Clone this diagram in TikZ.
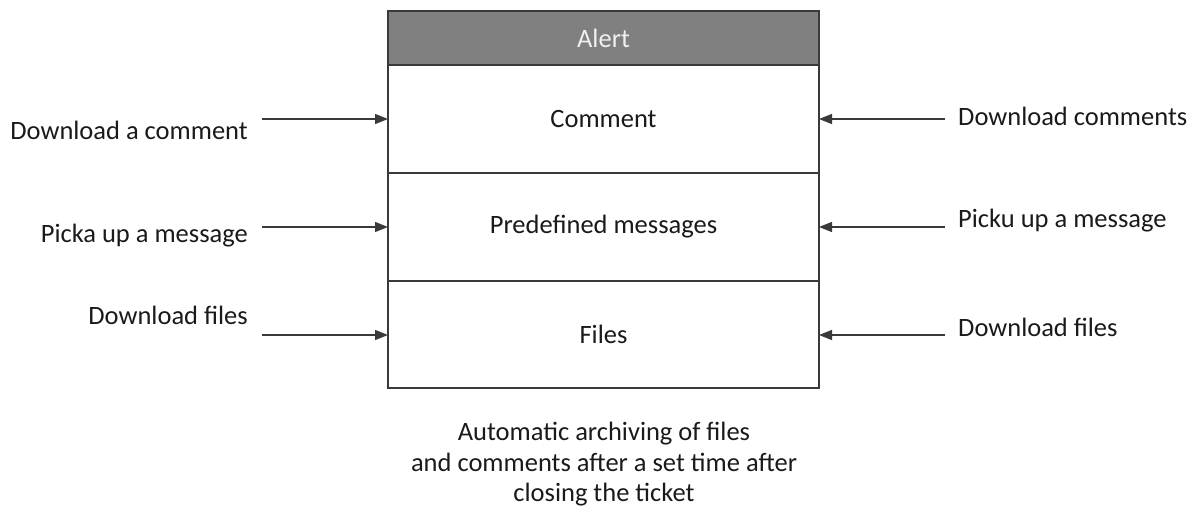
\documentclass[tikz,border=0pt]{standalone}
\usepackage{fontspec}
\setmainfont{Carlito}
\usetikzlibrary{arrows.meta}
\definecolor{hdr}{HTML}{808080}
\definecolor{hdrtxt}{HTML}{F0F0F0}
\definecolor{linec}{HTML}{3A3A3A}
\definecolor{txt}{HTML}{1A1A1A}
\begin{document}
\begin{tikzpicture}[x=1pt,y=-1pt,
  every node/.style={font=\fontsize{26.5}{30.5}\selectfont, text=txt, inner sep=0pt},
  rowbox/.style={draw=linec, line width=1.2pt, fill=white, minimum width=431pt, anchor=north west, outer sep=0pt},
  conn/.style={draw=linec, line width=1.3pt, -{Triangle[length=13pt,width=10pt]}}]
\useasboundingbox (0,0) rectangle (1196,513);
% header and rows
\node[rowbox, fill=hdr, minimum height=54pt, text=hdrtxt] (alert) at (388,11) {Alert};
\node[rowbox, minimum height=108pt] (comment) at (388,65) {Comment};
\node[rowbox, minimum height=108pt] (predef) at (388,173) {Predefined messages};
\node[rowbox, minimum height=107pt] (files) at (388,281) {Files};
% left labels
\node[anchor=east] (l1) at (248,130) {Download a comment};
\node[anchor=east] (l2) at (248,236) {Picka up a message};
\node[anchor=east] (l3) at (248,315) {Download files};
% right labels
\node[anchor=west] (r1) at (958,116) {Download comments};
\node[anchor=west] (r2) at (958,221) {Picku up a message};
\node[anchor=west] (r3) at (958,327) {Download files};
% arrow start coordinates
\coordinate (la1) at (262,119);
\coordinate (la2) at (262,227);
\coordinate (la3) at (262,335);
\coordinate (ra1) at (945,119);
\coordinate (ra2) at (945,227);
\coordinate (ra3) at (945,335);
\draw[conn] (la1) -- (la1 -| comment.west);
\draw[conn] (la2) -- (la2 -| predef.west);
\draw[conn] (la3) -- (la3 -| files.west);
\draw[conn] (ra1) -- (ra1 -| comment.east);
\draw[conn] (ra2) -- (ra2 -| predef.east);
\draw[conn] (ra3) -- (ra3 -| files.east);
% bottom note
\node[align=center, anchor=north] (note) at (604,422) {Automatic archiving of files\\and comments after a set time after\\closing the ticket};
\end{tikzpicture}
\end{document}
